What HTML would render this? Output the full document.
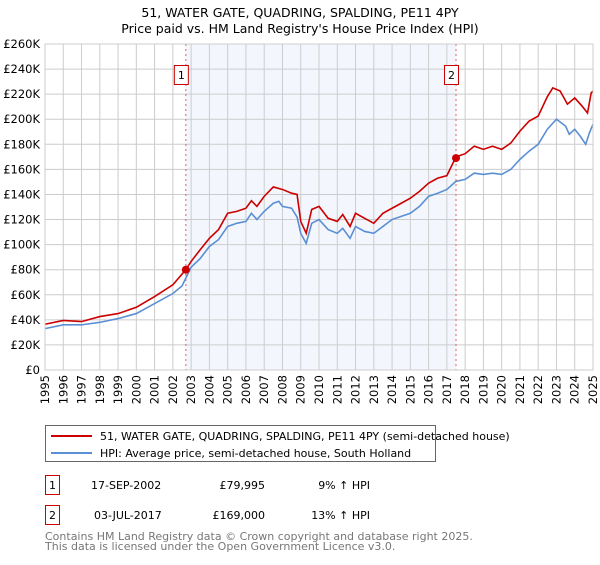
<!DOCTYPE html>
<html><head><meta charset="utf-8"><style>
body{margin:0;background:#fff;font-family:"Liberation Sans","DejaVu Sans",sans-serif;}
svg text{font-family:"DejaVu Sans","Liberation Sans",sans-serif;}
</style></head><body>
<svg id="chart" width="600" height="560" viewBox="0 0 600 560" xmlns="http://www.w3.org/2000/svg">
<text x="300" y="17" text-anchor="middle" font-size="12.5" fill="#000">51, WATER GATE, QUADRING, SPALDING, PE11 4PY</text>
<text x="300" y="33" text-anchor="middle" font-size="12.5" fill="#000">Price paid vs. HM Land Registry's House Price Index (HPI)</text>
<g id="plot"></g>
<g>
<rect x="45.5" y="425.5" width="390" height="36" fill="#fff" stroke="#666"/>
<line x1="51" y1="436" x2="92" y2="436" stroke="#cc0000" stroke-width="2"/>
<text x="100" y="440" font-size="11">51, WATER GATE, QUADRING, SPALDING, PE11 4PY (semi-detached house)</text>
<line x1="51" y1="453" x2="92" y2="453" stroke="#5b8fd4" stroke-width="2"/>
<text x="100" y="457" font-size="11">HPI: Average price, semi-detached house, South Holland</text>
</g>
<g font-size="11">
<rect x="45.5" y="475.5" width="14" height="19" fill="#fff" stroke="#cc0000"/>
<text x="52.5" y="489" text-anchor="middle">1</text>
<text x="91" y="489">17-SEP-2002</text>
<text x="265" y="489" text-anchor="end">£79,995</text>
<text x="370" y="489" text-anchor="end">9% ↑ HPI</text>
<rect x="45.5" y="505.5" width="14" height="19" fill="#fff" stroke="#cc0000"/>
<text x="52.5" y="519" text-anchor="middle">2</text>
<text x="94" y="519">03-JUL-2017</text>
<text x="265" y="519" text-anchor="end">£169,000</text>
<text x="370" y="519" text-anchor="end">13% ↑ HPI</text>
</g>
<text x="45" y="540" font-size="11" fill="#777">Contains HM Land Registry data © Crown copyright and database right 2025.</text>
<text x="45" y="550" font-size="11" fill="#777">This data is licensed under the Open Government Licence v3.0.</text>
</svg>
<script>
const hpiYears=[1995,1996,1997,1998,1999,2000,2001,2002,2002.5,2003,2003.5,2004,2004.5,2005,2005.5,2006,2006.3,2006.6,2007,2007.5,2007.8,2008,2008.5,2008.8,2009,2009.3,2009.6,2010,2010.5,2011,2011.3,2011.7,2012,2012.5,2013,2013.5,2014,2014.5,2015,2015.5,2016,2016.5,2017,2017.5,2018,2018.5,2019,2019.5,2020,2020.5,2021,2021.5,2022,2022.5,2023,2023.5,2023.7,2024,2024.3,2024.6,2024.8,2025];
const hpiValues=[33,36,36,38,41,45,53,61,67,82,89,98.5,104,114.5,117,118.5,125,120,126.5,133,134.5,130.5,129,122,109,101,117,120,112,109,113,105,114.5,110.5,109,114.5,120,122.5,125,130.5,138.5,141,144,150.5,152,157,156,157,156,160,168,174.5,180,192,200,194.5,188,192,186.5,180,189,196];
const propYears=[1995,1996,1997,1998,1999,2000,2001,2002,2002.71,2003,2003.5,2004,2004.5,2005,2005.5,2006,2006.3,2006.6,2007,2007.5,2008,2008.5,2008.8,2009,2009.3,2009.6,2010,2010.5,2011,2011.3,2011.7,2012,2012.5,2013,2013.5,2014,2014.5,2015,2015.5,2016,2016.5,2017,2017.5,2018,2018.5,2019,2019.5,2020,2020.5,2021,2021.5,2022,2022.5,2022.8,2023.2,2023.6,2024,2024.4,2024.7,2024.9,2025];
const propValues=[36.5,39.5,38.6,42.6,45,50,58.6,68,80,86.6,96,105,112,125,126.5,129,135,130.5,138.5,146,144,141,140,118.5,109,128,130.5,121,118.5,124,114.5,125,121,117,125,129,133,137,142.5,149,153,155,170,172.5,178.5,176,178.5,176,181,190.5,198.5,202.5,218,225,222.5,212,217,210.5,205,221,222.5];
const saleLabels=["1","2"];
const saleYears=[2002.71,2017.5];
const saleValues=[79.995,169];
const yTicks=[0,20,40,60,80,100,120,140,160,180,200,220,240,260];
const xTicks=[1995,1996,1997,1998,1999,2000,2001,2002,2003,2004,2005,2006,2007,2008,2009,2010,2011,2012,2013,2014,2015,2016,2017,2018,2019,2020,2021,2022,2023,2024,2025];

const X0=45,X1=593,Y0=370,Y1=44;
const xs=y=>X0+(y-1995)/(2025-1995)*(X1-X0);
const ys=v=>Y0-v/260*(Y0-Y1);
const NS="http://www.w3.org/2000/svg";
const plot=document.getElementById('plot');
function mk(t,a){const e=document.createElementNS(NS,t);for(const k in a)e.setAttribute(k,a[k]);plot.appendChild(e);return e;}

const shade=mk('rect',{x:xs(saleYears[0]),y:Y1,width:xs(saleYears[1])-xs(saleYears[0]),height:Y0-Y1,fill:'#eef3fc',opacity:'0.7'});


yTicks.forEach(v=>{
 const l=mk('line',{x1:X0,x2:X1,y1:ys(v),y2:ys(v),stroke:'#cccccc','stroke-width':1});
 
 
 const t=mk('text',{x:X0-5,y:ys(v)+4,'text-anchor':'end','font-size':11.5,fill:'#000'});
 t.textContent='£'+(v===0?'0':v+'K');
 
 
});
xTicks.forEach(yr=>{
 const l=mk('line',{x1:xs(yr),x2:xs(yr),y1:Y1,y2:Y0,stroke:'#cccccc','stroke-width':1});
 
 
 const t=mk('text',{x:0,y:0,'text-anchor':'end','font-size':11.5,transform:`translate(${xs(yr)+4},375) rotate(-90)`});
 t.textContent=yr;
 
 
});
const hp=mk('polyline',{points:hpiYears.map((y,i)=>xs(y)+','+ys(hpiValues[i])).join(' '),fill:'none',stroke:'#5b8fd4','stroke-width':1.6});


const pp=mk('polyline',{points:propYears.map((y,i)=>xs(y)+','+ys(propValues[i])).join(' '),fill:'none',stroke:'#cc0000','stroke-width':1.6});


saleYears.forEach((yr,i)=>{
 const d=mk('line',{x1:xs(yr),x2:xs(yr),y1:Y1,y2:Y0,stroke:'#e06060','stroke-width':1,'stroke-dasharray':'2,3'});
 
 
 const b=mk('rect',{x:xs(yr)-11.5,y:65.5,width:14,height:19,fill:'#fff',stroke:'#cc0000'});
 
 
 const t=mk('text',{x:xs(yr)-4.5,y:79,'text-anchor':'middle','font-size':11});
 t.textContent=saleLabels[i];
 
 
 const c=mk('circle',{cx:xs(yr),cy:ys(saleValues[i]),r:4,fill:'#cc0000'});
 
 
});
const ax=mk('rect',{x:X0,y:Y1,width:X1-X0,height:Y0-Y1,fill:'none',stroke:'#cccccc'});


</script>
</body></html>
